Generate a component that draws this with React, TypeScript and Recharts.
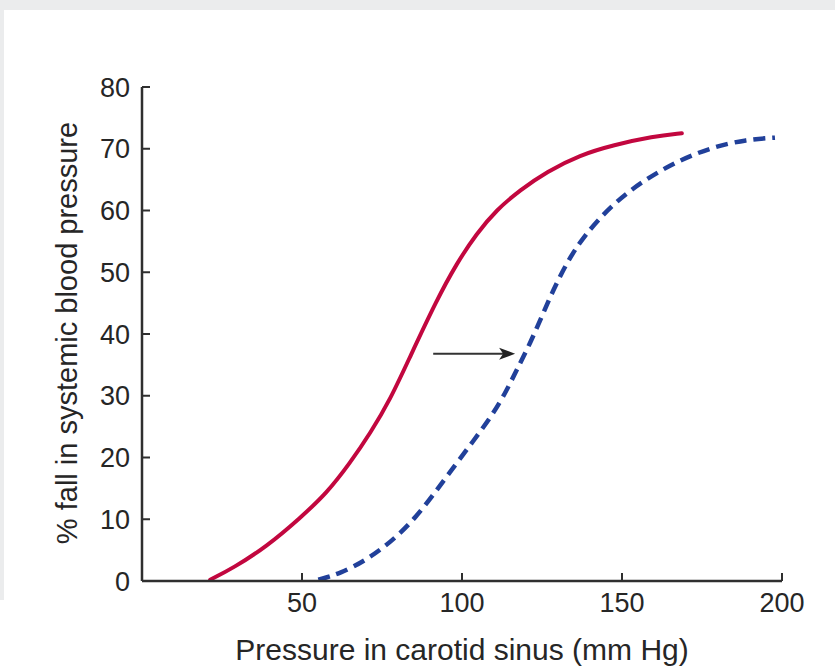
import { Label, Line, LineChart, ReferenceLine, XAxis, YAxis } from 'recharts'

// normal baroreceptor curve (solid)
const normalX = [21.3, 28.5, 39, 49.4, 57.7, 65, 71.3, 77.5, 83.75, 92.1, 98.3, 104.6, 110.8, 118.1, 126.5, 136.9, 147.3, 159.7, 168.7]
const normalY = [0.2, 2.1, 5.6, 10.2, 14.2, 19.1, 23.9, 29.3, 36.3, 45.5, 51.4, 56.3, 60.1, 63.3, 66.3, 69.0, 70.6, 72.0, 72.5]

// reset (shifted) curve (dashed)
const shiftedX = [55.1, 61.9, 70.2, 78.5, 85.8, 92.1, 98.3, 109.3, 114, 117.6, 121.3, 124.9, 128.5, 132.7, 137.9, 147.3, 157.7, 168.1, 178.5, 189, 197.8]
const shiftedY = [0.2, 1.2, 3.4, 6.6, 10.4, 14.7, 19.1, 26.6, 30.9, 34.7, 38.5, 42.8, 47.1, 51.5, 55.8, 61.2, 65.2, 68.2, 70.3, 71.5, 71.8]

const xTicks = [50, 100, 150, 200]
const yTicks = [0, 10, 20, 30, 40, 50, 60, 70, 80]

// arrow showing the shift
const arrowFrom = { x: 91, y: 36.8 }
const arrowTo = { x: 116.6, y: 36.8 }

const normal = normalX.map((x, i) => ({ x, y: normalY[i] }))
const shifted = shiftedX.map((x, i) => ({ x, y: shiftedY[i] }))

const AXIS = '#2f2f2f'
const TEXT = '#262626'
const FONT = '"Liberation Sans", Arial, Helvetica, sans-serif'

function YTick(props: any) {
  const { x, y, payload } = props
  return (
    <g>
      <line x1={x + 12} y1={y} x2={x + 20} y2={y} stroke={AXIS} strokeWidth={2} />
      <text x={x} y={y} dy="0.36em" textAnchor="end" fill={TEXT} fontSize={27} fontFamily={FONT}>
        {payload.value}
      </text>
    </g>
  )
}

function XTick(props: any) {
  const { x, y, payload } = props
  return (
    <g>
      <line x1={x} y1={y - 12} x2={x} y2={y - 20} stroke={AXIS} strokeWidth={2} />
      <text x={x} y={y} dy="0.72em" textAnchor="middle" fill={TEXT} fontSize={27} fontFamily={FONT}>
        {payload.value}
      </text>
    </g>
  )
}

function Arrow(props: any) {
  const { x1, y1, x2, y2 } = props
  return (
    <g>
      <line x1={x1} y1={y1} x2={x2 - 12} y2={y2} stroke="#333" strokeWidth={2} />
      <polygon points={`${x2},${y2} ${x2 - 16},${y2 - 6} ${x2 - 12},${y2} ${x2 - 16},${y2 + 6}`} fill="#222" />
    </g>
  )
}

export default function App() {
  return (
    <div style={{ position: 'absolute', left: 0, top: 0, width: 835, height: 666, background: '#fff' }}>
      <div style={{ position: 'absolute', left: 0, top: 0, width: 835, height: 10, background: '#ebeced' }} />
      <div style={{ position: 'absolute', left: 0, top: 0, width: 4, height: 600, background: '#ebeced' }} />
      <div style={{ position: 'absolute', left: 0, top: 0 }}>
        <LineChart width={835} height={666} margin={{ top: 87, right: 53, bottom: 0, left: 0 }}>
          <XAxis
            type="number"
            dataKey="x"
            domain={[0, 200]}
            ticks={xTicks}
            height={85}
            axisLine={{ stroke: AXIS, strokeWidth: 2.5 }}
            tickLine={false}
            tickSize={0}
            tickMargin={12}
            tick={<XTick />}
            interval={0}
          >
            <Label
              content={() => (
                <text x={462} y={660} textAnchor="middle" fill={TEXT} fontSize={30} fontFamily={FONT}>
                  Pressure in carotid sinus (mm Hg)
                </text>
              )}
            />
          </XAxis>
          <YAxis
            type="number"
            dataKey="y"
            domain={[0, 80]}
            ticks={yTicks}
            width={142}
            axisLine={{ stroke: AXIS, strokeWidth: 2.5 }}
            tickLine={false}
            tickSize={0}
            tickMargin={12}
            tick={<YTick />}
            interval={0}
          >
            <Label
              content={() => (
                <text
                  x={0}
                  y={0}
                  transform="translate(77,333) rotate(-90)"
                  textAnchor="middle"
                  fill={TEXT}
                  fontSize={29}
                  fontFamily={FONT}
                >
                  % fall in systemic blood pressure
                </text>
              )}
            />
          </YAxis>
          <Line
            data={normal}
            dataKey="y"
            type="basis"
            stroke="#c2073f"
            strokeWidth={4}
            strokeLinecap="round"
            dot={false}
            activeDot={false}
            isAnimationActive={false}
          />
          <Line
            data={shifted}
            dataKey="y"
            type="basis"
            stroke="#21409a"
            strokeWidth={4.5}
            strokeDasharray="12 7"
            dot={false}
            activeDot={false}
            isAnimationActive={false}
          />
          <ReferenceLine segment={[arrowFrom, arrowTo]} shape={<Arrow />} ifOverflow="visible" />
        </LineChart>
      </div>
    </div>
  )
}
